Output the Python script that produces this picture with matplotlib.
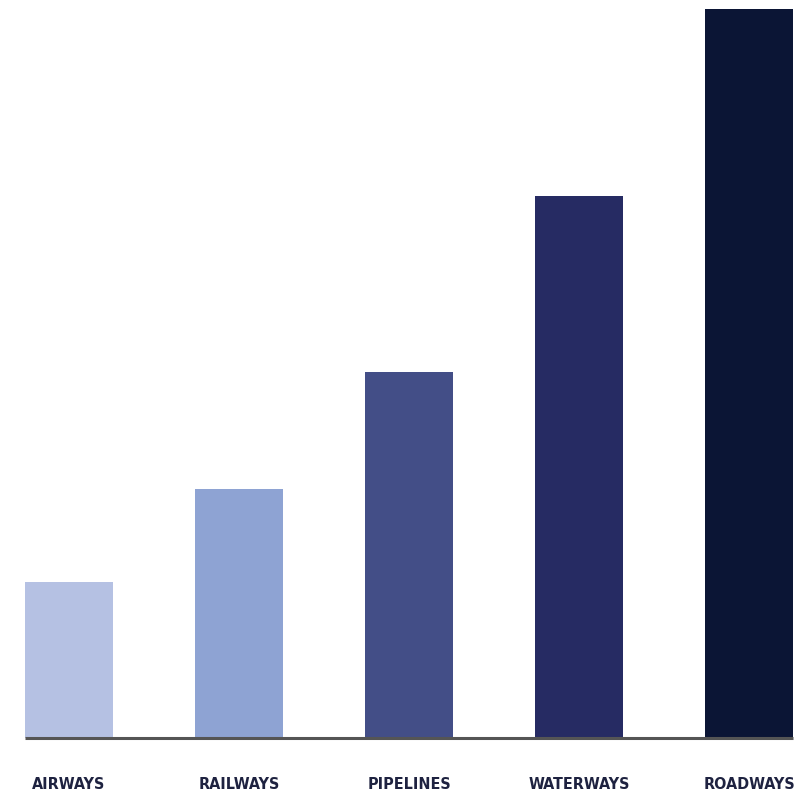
import matplotlib.pyplot as plt
import numpy as np

# transport modes and their relative share
modes = ["AIRWAYS", "RAILWAYS", "PIPELINES", "WATERWAYS", "ROADWAYS"]
values = [156, 249, 366, 542, 729]
colors = ["#b5c1e3", "#8ea3d3", "#434e87", "#262b63", "#0b1535"]

fig = plt.figure(figsize=(8, 8.01), dpi=100)
ax = fig.add_axes([0, 63 / 801, 1, 738 / 801])

x = np.arange(len(modes))
width = 0.52
ax.bar(x, values, width=width, color=colors, zorder=2)

# baseline under the bars only
ax.plot([x[0] - width / 2, x[-1] + width / 2], [0, 0], color="#555555", lw=2.2,
        solid_capstyle="butt", zorder=3, clip_on=False)

ax.set_xlim(-69 / 170, 731 / 170)
ax.set_ylim(0, 738)
ax.set_xticks(x)
ax.set_xticklabels(modes, fontfamily=["DejaVu Sans"], fontstretch="condensed",
                   fontweight="bold", fontsize=11.5, color="#1e2240")
ax.tick_params(axis="x", length=0, pad=28)
ax.set_yticks([])
for s in ax.spines.values():
    s.set_visible(False)

fig.savefig("out.png", dpi=100)
